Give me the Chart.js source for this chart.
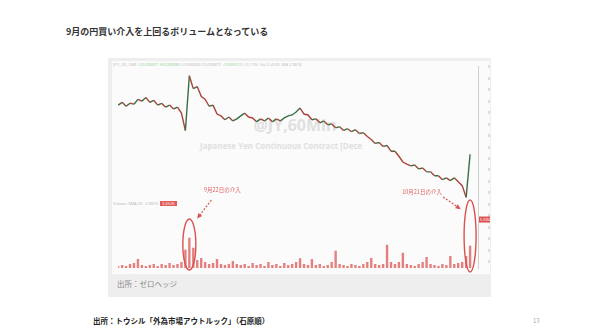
<!DOCTYPE html>
<html>
<head>
<meta charset="utf-8">
<script src="https://cdn.jsdelivr.net/npm/chart.js@4.4.0/dist/chart.umd.min.js"></script>
<style>
  body { margin: 0; width: 600px; height: 335px; background: #fff; position: relative; overflow: hidden;
         font-family: "Noto Sans CJK JP", "Noto Sans", sans-serif; }
  div { position: absolute; white-space: nowrap; }
  #title { left: 66px; top: 25px; font-size: 9px; line-height: 13px; font-weight: bold; color: #333; }
  #panel { left: 108px; top: 58px; width: 383px; height: 239px; background: #eeeeee; }
  #inner { left: 112px; top: 61px; width: 378px; height: 213px; background: #fbfbfb; }
  .wm { color: #e0e0e0; font-family: "Open Sans", sans-serif; font-weight: bold; }
  #wm1 { left: 235px; width: 120px; text-align: center; top: 115px; font-size: 16px; line-height: 20px; }
  #wm2 { left: 200px; top: 141px; font-size: 8px; line-height: 10px; }
  #legend { left: 113px; top: 62px; font-size: 4px; line-height: 5px; color: #b8b8b8; font-family: "Open Sans", sans-serif; }
  #legend span { color: #8fd18f; }
  #volLegend { left: 113px; top: 201px; font-size: 4px; line-height: 5px; color: #b0b0b0; font-family: "Open Sans", sans-serif; }
  #volLegend span { background: #e05a5a; color: #fff; padding: 0 2px; }
  #box { left: 113px; top: 62px; width: 377px; height: 214px; }
  #src1 { left: 117px; top: 279px; font-size: 7.5px; line-height: 10px; color: #888; }
  #src2 { left: 93px; top: 316px; font-size: 7.5px; line-height: 10px; font-weight: bold; color: #222; }
  #page { left: 533px; top: 317px; font-size: 6px; line-height: 8px; color: #aaa; }
</style>
</head>
<body>
<div id="title">9月の円買い介入を上回るボリュームとなっている</div>
<div id="panel"></div>
<div id="inner"></div>
<div class="wm" id="wm1">@JY,60Min</div>
<div class="wm" id="wm2">Japanese Yen Continuous Contract [Dece</div>
<div id="legend">JY1!, 60, CME &nbsp;<span>O0.006871 H0.006885</span> L0.006860 C0.006873 <span>+0.000012</span> (+0.17%) &nbsp;Vol 3.452K &nbsp;MA 2.981K</div>
<div id="volLegend">Volume SMA 20 · 2.981K &nbsp;<span>3.452K</span></div>
<div id="box"><canvas id="c" width="377" height="214"></canvas></div>
<div id="src1">出所：ゼロヘッジ</div>
<div id="src2">出所：トウシル「外為市場アウトルック」（石原順）</div>
<div id="page">13</div>

<script>
// trading days shown on the time axis
const tradingDays = ['9/15', '9/16', '9/19', '9/20', '9/21', '9/22', '9/23', '9/26', '9/27', '9/28',
  '9/29', '9/30', '10/3', '10/4', '10/5', '10/6', '10/7', '10/10', '10/11', '10/12', '10/13',
  '10/14', '10/17', '10/18', '10/19', '10/20', '10/21'];

// JPY futures price (60 min, sampled)
const priceVals = [
  0.007085, 0.007097, 0.007080, 0.007093, 0.007089, 0.007110, 0.007102, 0.007118, 0.007097, 0.007106,
  0.007085, 0.007093, 0.007076, 0.007085, 0.007068, 0.007076, 0.007050, 0.006974, 0.007213, 0.007157,
  0.007166, 0.007123, 0.007110, 0.007080, 0.007085, 0.007046, 0.007038, 0.007021, 0.007033, 0.007016,
  0.007025, 0.007038, 0.007050, 0.007033, 0.007029, 0.007012, 0.007025, 0.007016, 0.007029, 0.007012,
  0.007025, 0.007016, 0.007029, 0.007038, 0.007042, 0.007055, 0.007072, 0.007046, 0.007042, 0.007021,
  0.007025, 0.007008, 0.007016, 0.006999, 0.007003, 0.006986, 0.006991, 0.006974, 0.006982, 0.006969,
  0.006978, 0.006961, 0.006965, 0.006948, 0.006935, 0.006918, 0.006922, 0.006905, 0.006909, 0.006884,
  0.006884, 0.006862, 0.006837, 0.006828, 0.006820, 0.006824, 0.006807, 0.006811, 0.006794, 0.006794,
  0.006777, 0.006777, 0.006760, 0.006768, 0.006756, 0.006768, 0.006751, 0.006734, 0.006683, 0.006871,
  null, null
];

// volume (thousand contracts)
const volumeVals = [
  1, 1.5, 1, 2, 2.5, 4.5, 1.5, 1, 1.5, 2,
  1, 2, 1.5, 2.5, 1.5, 2, 3, 9, 15, 10,
  4, 5, 3, 2, 2.5, 4.5, 2, 1.5, 2, 3.5,
  2, 1.5, 2, 1, 2.5, 1.5, 2, 1, 3, 1.5,
  2, 1, 2.5, 1.5, 2, 3, 4.8, 2, 1.5, 4.5,
  1.5, 2, 1, 1.5, 3, 8.5, 2, 1.5, 1, 2,
  1.5, 1, 2, 3, 5, 2, 1.5, 2, 11.5, 3,
  2, 3, 7.5, 2, 1.5, 1, 2, 3, 5.5, 2,
  1.5, 1, 2, 1.5, 6, 2, 2.5, 3, 6, 11,
  null, null
];

// intervention points (index into the series) and their labels
const interventions = [
  { idx: 18, text: '9月22日の介入', lx: 33, ly: -78, ax0: 22, ay0: -68, ax1: 9, ay1: -51, cy: -23.5, rx: 6.5, ry: 25.5 },
  { idx: 89, text: '10月21日の介入', lx: -48, ly: -76, ax0: -27, ay0: -71, ax1: -11, ay1: -60, cy: -32, rx: 6, ry: 36 }
];
const volMarker = 24;

const labels = priceVals.map((_, i) => {
  const d = Math.min(tradingDays.length - 1, Math.max(0, Math.floor((i - 18) / 3.38) + 5));
  return tradingDays[d];
});

const RED = '#d9534f';

const annotate = {
  id: 'annotate',
  afterDatasetsDraw(chart) {
    const ctx = chart.ctx;
    const x = chart.scales.x, yv = chart.scales.yVol;
    const base = yv.getPixelForValue(0);
    ctx.save();
    interventions.forEach(a => {
      const cx = x.getPixelForValue(a.idx);
      // ellipse
      ctx.strokeStyle = RED;
      ctx.lineWidth = 1.4;
      ctx.setLineDash([]);
      ctx.beginPath();
      ctx.ellipse(cx, base + a.cy, a.rx, a.ry, 0, 0, Math.PI * 2);
      ctx.stroke();
      // dashed arrow
      const x0 = cx + a.ax0, y0 = base + a.ay0, x1 = cx + a.ax1, y1 = base + a.ay1;
      ctx.lineWidth = 1.2;
      ctx.setLineDash([2, 1.5]);
      ctx.beginPath();
      ctx.moveTo(x0, y0);
      ctx.lineTo(x1, y1);
      ctx.stroke();
      ctx.setLineDash([]);
      const ang = Math.atan2(y1 - y0, x1 - x0);
      ctx.fillStyle = RED;
      ctx.beginPath();
      ctx.moveTo(x1 + Math.cos(ang) * 2, y1 + Math.sin(ang) * 2);
      ctx.lineTo(x1 + Math.cos(ang + 2.5) * 4, y1 + Math.sin(ang + 2.5) * 4);
      ctx.lineTo(x1 + Math.cos(ang - 2.5) * 4, y1 + Math.sin(ang - 2.5) * 4);
      ctx.closePath();
      ctx.fill();
      // label
      ctx.fillStyle = '#e06262';
      ctx.font = '5.5px "Noto Sans CJK JP"';
      ctx.textAlign = 'center';
      ctx.textBaseline = 'middle';
      ctx.fillText(a.text, cx + a.lx, base + a.ly);
    });
    // red marker on the price scale
    const my = yv.getPixelForValue(volMarker);
    const r = chart.chartArea.right;
    ctx.fillStyle = '#e05050';
    ctx.fillRect(r + 1, my - 3, 11, 6);
    ctx.fillStyle = '#fff';
    ctx.font = '3.5px "Open Sans"';
    ctx.textAlign = 'left';
    ctx.fillText('0.006871', r + 2, my);
    ctx.restore();
  }
};

new Chart(document.getElementById('c'), {
  type: 'bar',
  data: {
    labels: labels,
    datasets: [
      {
        type: 'line',
        data: priceVals,
        yAxisID: 'y',
        borderWidth: 1.4,
        pointRadius: 0,
        tension: 0,
        order: 0,
        segment: {
          borderColor: c => c.p1.parsed.y < c.p0.parsed.y ? '#a8443a' : '#3a6e44'
        }
      },
      {
        data: volumeVals,
        yAxisID: 'yVol',
        backgroundColor: 'rgba(222,72,72,0.7)',
        borderWidth: 0,
        barPercentage: 0.6,
        categoryPercentage: 1,
        order: 1
      }
    ]
  },
  options: {
    responsive: false,
    devicePixelRatio: 1,
    animation: false,
    layout: { padding: 0 },
    plugins: { legend: { display: false }, tooltip: { enabled: false } },
    scales: {
      x: {
        offset: false,
        grid: { display: false },
        border: { display: false },
        ticks: {
          font: { size: 4, family: 'Open Sans' },
          color: '#a8a8a8',
          maxRotation: 0,
          autoSkip: true,
          autoSkipPadding: 4,
          padding: 1
        },
        afterFit: s => { s.height = 8; }
      },
      y: {
        position: 'right',
        min: 0.006375,
        max: 0.007255,
        grid: { display: false },
        border: { color: '#cfcfcf' },
        ticks: {
          stepSize: 0.00005,
          includeBounds: false,
          font: { size: 3.5, family: 'Open Sans' },
          color: '#9a9a9a',
          padding: 2,
          callback: v => v.toFixed(6)
        },
        afterFit: s => { s.width = 12; }
      },
      yVol: {
        display: false,
        min: 0,
        max: 100
      }
    }
  },
  plugins: [annotate]
});
</script>
</body>
</html>
